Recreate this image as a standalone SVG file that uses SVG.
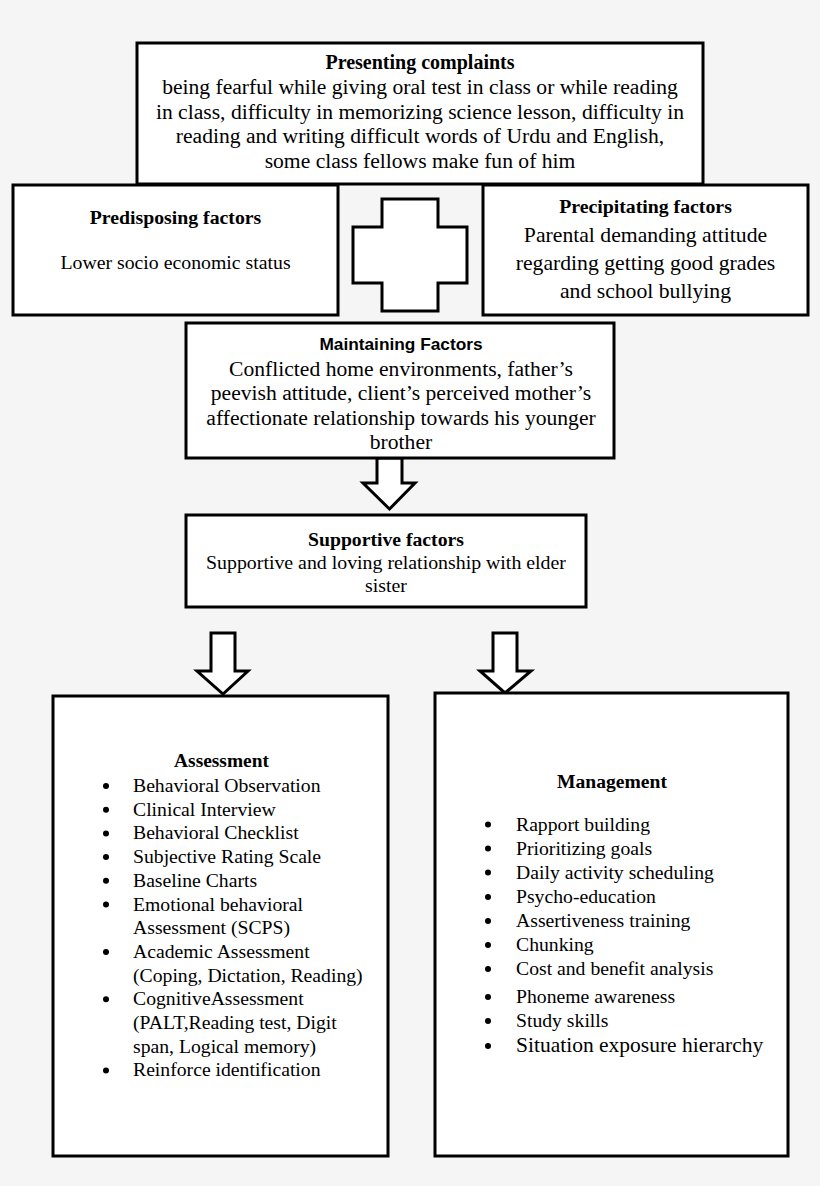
<svg xmlns="http://www.w3.org/2000/svg" width="820" height="1186" viewBox="0 0 820 1186">
<style>
.box{fill:#ffffff;stroke:#000000;stroke-width:3}
.shape{fill:#ffffff;stroke:#000000;stroke-width:3;stroke-linejoin:miter}
text{font-family:"Liberation Serif","Times New Roman",serif;fill:#000000}
.c{text-anchor:middle}
.t{font-weight:bold;font-size:20px}
.b{font-size:21.6px}
.l{font-size:19.7px}
.sans{font-family:"Liberation Sans",Arial,sans-serif;font-weight:bold;font-size:17.3px}
.dot{fill:#000000}
</style>
<rect x="0" y="0" width="820" height="1186" fill="#f5f5f5"/>

<g id="connectors">
<path class="shape" d="M410 199 L438 199 L438 227 L467 227 L467 283 L438 283 L438 311 L382 311 L382 283 L353 283 L353 227 L382 227 L382 199 Z"/>
<path class="shape" d="M377 458 L402 458 L402 483 L415 483 L389.5 509 L363 483 L377 483 Z"/>
<path class="shape" d="M211 633 L235 633 L235 671 L248 671 L223 694 L197 671 L211 671 Z"/>
<path class="shape" d="M493 633 L517 633 L517 671 L531 671 L505 693 L480 671 L493 671 Z"/>
</g>

<g id="presenting">
<rect class="box" x="137" y="43" width="566" height="141"/>
<text class="c t" x="420" y="69">Presenting complaints</text>
<text class="c b" x="420" y="94">being fearful while giving oral test in class or while reading</text>
<text class="c b" x="420" y="118.5">in class, difficulty in memorizing science lesson, difficulty in</text>
<text class="c b" x="420" y="143">reading and writing difficult words of Urdu and English,</text>
<text class="c b" x="420" y="167.5">some class fellows make fun of him</text>
</g>

<g id="predisposing">
<rect class="box" x="13" y="185" width="325" height="130"/>
<text class="c" x="175.5" y="224" font-weight="bold" font-size="19.8px">Predisposing factors</text>
<text class="c" x="175.5" y="269" font-size="19.8px">Lower socio economic status</text>
</g>

<g id="precipitating">
<rect class="box" x="483" y="185" width="325" height="130"/>
<text class="c" x="645.5" y="213" font-weight="bold" font-size="19.8px">Precipitating factors</text>
<text class="c" x="645.5" y="242" font-size="21.7px">Parental demanding attitude</text>
<text class="c" x="645.5" y="270" font-size="21.7px">regarding getting good grades</text>
<text class="c" x="645.5" y="298" font-size="21.7px">and school bullying</text>
</g>

<g id="maintaining">
<rect class="box" x="186" y="323" width="428" height="135"/>
<text class="c sans" x="401" y="350">Maintaining Factors</text>
<text class="c b" x="401" y="375.5">Conflicted home environments, father’s</text>
<text class="c b" x="401" y="400">peevish attitude, client’s perceived mother’s</text>
<text class="c b" x="401" y="424.5">affectionate relationship towards his younger</text>
<text class="c b" x="401" y="449">brother</text>
</g>

<g id="supportive">
<rect class="box" x="186" y="515" width="400" height="92"/>
<text class="c" x="386" y="546" font-weight="bold" font-size="19.7px">Supportive factors</text>
<text class="c" x="386" y="569" font-size="19.85px">Supportive and loving relationship with elder</text>
<text class="c" x="386" y="592" font-size="19.85px">sister</text>
</g>

<g id="assessment">
<rect class="box" x="53" y="696" width="335" height="460"/>
<text class="c" x="221.5" y="767" font-weight="bold" font-size="19.4px">Assessment</text>
<circle class="dot" cx="106" cy="786" r="3"/>
<text class="l" x="133" y="792">Behavioral Observation</text>
<circle class="dot" cx="106" cy="809.7" r="3"/>
<text class="l" x="133" y="815.7">Clinical Interview</text>
<circle class="dot" cx="106" cy="833.4" r="3"/>
<text class="l" x="133" y="839.4">Behavioral Checklist</text>
<circle class="dot" cx="106" cy="857.1" r="3"/>
<text class="l" x="133" y="863.1">Subjective Rating Scale</text>
<circle class="dot" cx="106" cy="880.8" r="3"/>
<text class="l" x="133" y="886.8">Baseline Charts</text>
<circle class="dot" cx="106" cy="904.5" r="3"/>
<text class="l" x="133" y="910.5">Emotional behavioral</text>
<text class="l" x="133" y="934.2">Assessment (SCPS)</text>
<circle class="dot" cx="106" cy="951.9" r="3"/>
<text class="l" x="133" y="957.9">Academic Assessment</text>
<text class="l" x="133" y="981.6">(Coping, Dictation, Reading)</text>
<circle class="dot" cx="106" cy="999.3" r="3"/>
<text class="l" x="133" y="1005.3">CognitiveAssessment</text>
<text class="l" x="133" y="1029">(PALT,Reading test, Digit</text>
<text class="l" x="133" y="1052.7">span, Logical memory)</text>
<circle class="dot" cx="106" cy="1070.4" r="3"/>
<text class="l" x="133" y="1076.4">Reinforce identification</text>
</g>

<g id="management">
<rect class="box" x="435" y="693" width="353" height="463"/>
<text class="c" x="612" y="788" font-weight="bold" font-size="19.6px">Management</text>
<circle class="dot" cx="488" cy="824.5" r="3"/>
<text class="l" x="516" y="830.5">Rapport building</text>
<circle class="dot" cx="488" cy="848.5" r="3"/>
<text class="l" x="516" y="854.5">Prioritizing goals</text>
<circle class="dot" cx="488" cy="872.5" r="3"/>
<text class="l" x="516" y="878.5">Daily activity scheduling</text>
<circle class="dot" cx="488" cy="897" r="3"/>
<text class="l" x="516" y="903">Psycho-education</text>
<circle class="dot" cx="488" cy="921" r="3"/>
<text class="l" x="516" y="927">Assertiveness training</text>
<circle class="dot" cx="488" cy="945" r="3"/>
<text class="l" x="516" y="951">Chunking</text>
<circle class="dot" cx="488" cy="969" r="3"/>
<text class="l" x="516" y="975">Cost and benefit analysis</text>
<circle class="dot" cx="488" cy="997" r="3"/>
<text class="l" x="516" y="1003">Phoneme awareness</text>
<circle class="dot" cx="488" cy="1021" r="3"/>
<text class="l" x="516" y="1027">Study skills</text>
<circle class="dot" cx="488" cy="1046" r="3"/>
<text x="516" y="1052" font-size="21.5px">Situation exposure hierarchy</text>
</g>
</svg>
